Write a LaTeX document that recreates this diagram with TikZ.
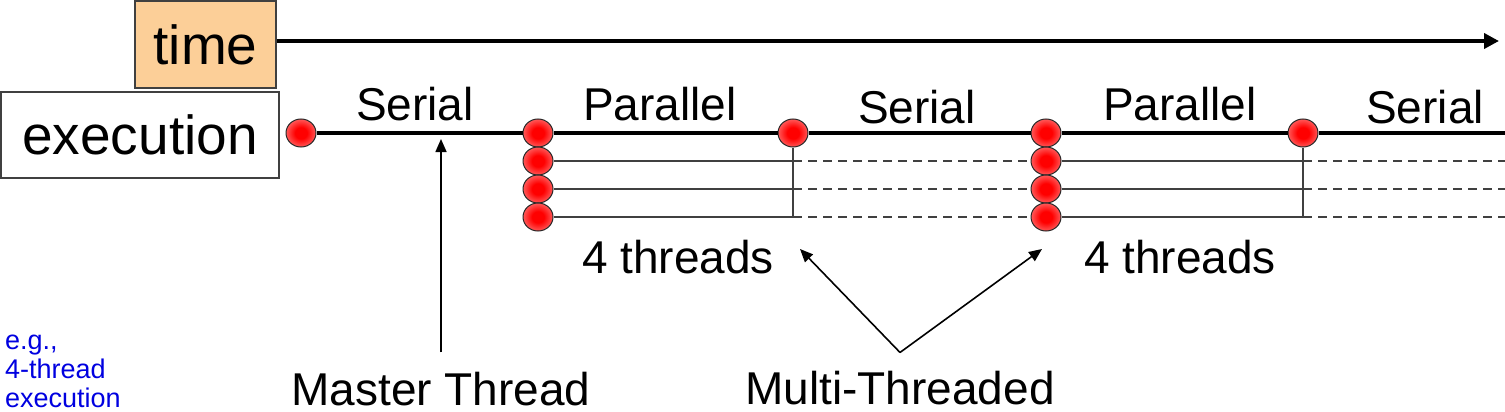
\documentclass[tikz,border=0pt]{standalone}
\usepackage{fontspec}
\setmainfont{Liberation Sans}
\usetikzlibrary{shapes.geometric,arrows.meta}
\definecolor{timefill}{HTML}{FCCF98}
\definecolor{boxline}{HTML}{404040}
\definecolor{egblue}{HTML}{0000E0}
\pgfdeclareradialshading{redball}{\pgfpoint{0bp}{0bp}}{color(0bp)=(red); color(10bp)=(red); color(25bp)=(red!65!white); color(50bp)=(red!45!white)}
\tikzset{
  thr/.style={ellipse,draw=black!85,line width=1pt,minimum width=30pt,minimum height=28pt,inner sep=0pt,shading=redball},
  lbl/.style={anchor=base,inner sep=2pt,font=\fontsize{46}{48}\selectfont},
  big/.style={draw=boxline,line width=1.8pt,inner sep=0pt,font=\fontsize{55}{60}\selectfont},
  thin/.style={draw=boxline,line width=1.6pt},
  gap/.style={thin,dash pattern=on 9pt off 6pt},
  ptr/.style={line width=1.6pt,-{Triangle[length=13pt,width=11pt]}}
}
\begin{document}
\begin{tikzpicture}[x=1pt,y=-1pt]
\useasboundingbox (0,0) rectangle (1505,412);
    \node[big,fill=timefill,minimum width=141pt,minimum height=87pt] (time) at (205.5,44.5) {time};
    \node[big,minimum width=278pt,minimum height=86pt] (exec) at (140,135) {execution};
    \coordinate (tend) at (1499,41);
    \draw[line width=4.5pt,-{Triangle[length=15pt,width=15pt]}] (time.east |- tend) -- (tend);
    \node[thr] (s1) at (301,133) {};
    \node[thr] (j1) at (793,133) {};
    \node[thr] (j2) at (1303,133) {};
    \foreach \r [count=\i] in {133,161,189,217}
    {\node[thr] (fa\i) at (538,\r) {};
     \node[thr] (fb\i) at (1046,\r) {};}
    \coordinate (eol) at (1505,133);
    \draw[line width=4pt] (s1) -- (fa1) -- (j1) -- (fb1) -- (j2) -- (eol);
    \foreach \i in {2,3,4}
   {\draw[thin] (fa\i) -- (fa\i -| j1);
    \draw[gap] (fa\i -| j1) -- (fb\i);
    \draw[thin] (fb\i) -- (fb\i -| j2);
    \draw[gap] (fb\i -| j2) -- (fb\i -| eol);}
    \draw[thin] (j1) -- (j1 |- fa4);
    \draw[thin] (j2) -- (j2 |- fb4);
    \node[lbl] (ser1) at (415,120) {Serial};
    \node[lbl] (par1) at (660,121) {Parallel};
    \node[lbl] (ser2) at (917,123) {Serial};
    \node[lbl] (par2) at (1180,121) {Parallel};
    \node[lbl] (ser3) at (1425,123) {Serial};
    \node[lbl] (thr1) at (678,273) {4 threads};
    \node[lbl] (thr2) at (1180,273) {4 threads};
    \node[lbl] (master) at (441,405) {Master Thread};
    \node[lbl] (multi) at (900,404) {Multi-Threaded};
    \coordinate (mt) at (441,139);
    \draw[ptr] ([yshift=17pt]master.north) -- (mt);
    \coordinate (mv) at ([yshift=16pt]multi.north);
    \coordinate (m1) at (800,249);
    \coordinate (m2) at (1042,249);
    \draw[ptr] (mv) -- (m1);
    \draw[ptr] (mv) -- (m2);
    \node[anchor=base west,align=left,text=egblue,font=\fontsize{27}{29}\selectfont,inner sep=0pt] (eg) at (5,407) {e.g.,\\4-thread\\execution};
    \end{tikzpicture}
\end{document}
